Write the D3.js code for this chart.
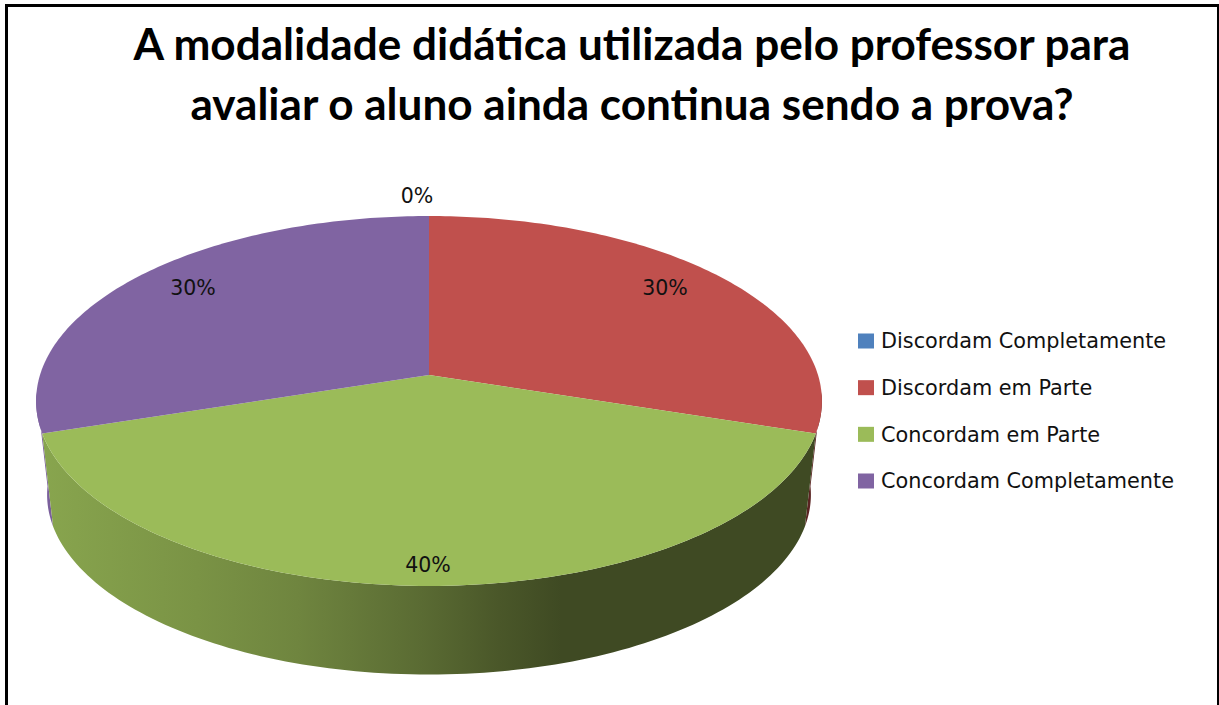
<!DOCTYPE html>
<html lang="pt">
<head>
<meta charset="utf-8">
<title>Modalidade didática</title>
<script src="https://cdn.jsdelivr.net/npm/d3@7"></script>
<style>
  html, body { margin: 0; background: #fff; }
  svg { display: block; }
  .title { font-family: Lato, sans-serif; font-weight: 700; font-size: 44.1px; fill: #000; text-anchor: middle; }
  .label, .legend-text { font-family: "DejaVu Sans", sans-serif; fill: #111; }
  .label { font-size: 20.5px; text-anchor: middle; }
  .legend-text { font-size: 20.8px; }
</style>
</head>
<body>
<div id="chart"></div>
<script>
const titleLines = [
  "A modalidade didática utilizada pelo professor para",
  "avaliar o aluno ainda continua sendo a prova?",
];
const categories = [
  "Discordam Completamente",
  "Discordam em Parte",
  "Concordam em Parte",
  "Concordam Completamente",
];
const values = [0, 30, 40, 30];
const colors = ["#4F81BD", "#C0504D", "#9BBB59", "#8064A2"];

const width = 1219;
const height = 705;

// tilted disc: circle of radius 1 projected with perspective
const pieX = 429;
const pieY = 375;
const radiusX = 389;
const radiusY = 181.3;
const tilt = 0.1405;
// the underside of the disc is a little smaller and lower
const baseScale = 0.972;
const baseShift = 105;
// how far out each label sits, across and down, in disc radii
const labelOffset = [
  { kx: 1, ky: 1.146, dx: -12 },
  { kx: 0.804, ky: 0.875, dx: 0 },
  { kx: 1, ky: 0.913, dx: -1 },
  { kx: 0.804, ky: 0.875, dx: 0 },
];

const projectUV = (u, v) => {
  const w = 1 - tilt * v;
  return [(radiusX * u) / w, (radiusY * v) / w];
};

const project = (angle, isBase = false) => {
  const [x, y] = projectUV(Math.sin(angle), -Math.cos(angle));
  return isBase
    ? [pieX + x * baseScale, (pieY + y) * baseScale + baseShift]
    : [pieX + x, pieY + y];
};

const arcPoints = (a0, a1, isBase = false) =>
  d3.range(0, 121).map((i) => project(a0 + ((a1 - a0) * i) / 120, isBase));

const line = d3.line();

const pie = d3.pie().sort(null)(values);

const svg = d3
  .select("#chart")
  .append("svg")
  .attr("width", width)
  .attr("height", height);

const sideGradient = svg
  .append("defs")
  .append("linearGradient")
  .attr("id", "side-green")
  .attr("gradientUnits", "userSpaceOnUse")
  .attr("x1", 42)
  .attr("x2", 817)
  .attr("y1", 0)
  .attr("y2", 0);

sideGradient
  .selectAll("stop")
  .data([
    [0, "#88A54E"],
    [0.2, "#7A9345"],
    [0.33, "#6F853F"],
    [0.49, "#5A6B33"],
    [0.59, "#4A5729"],
    [0.67, "#3F4A23"],
    [1, "#3F4A23"],
  ])
  .join("stop")
  .attr("offset", (d) => d[0])
  .attr("stop-color", (d) => d[1]);

// black frame, open at the bottom
const frame = svg.append("g").attr("class", "frame");
frame.append("rect").attr("x", 5).attr("y", 4).attr("width", 1214).attr("height", 3);
frame.append("rect").attr("x", 5).attr("y", 4).attr("width", 3).attr("height", 701);
frame.append("rect").attr("x", 1217).attr("y", 4).attr("width", 2).attr("height", 701);

svg
  .append("g")
  .selectAll("text")
  .data(titleLines)
  .join("text")
  .attr("class", "title")
  .attr("x", 632)
  .attr("y", (d, i) => 60 + i * 60)
  .text((d) => d);

const gSides = svg.append("g").attr("class", "sides");
const gTop = svg.append("g").attr("class", "top");
const gLabels = svg.append("g").attr("class", "labels");

// side walls, front of the disc only
const sideOf = (a0, a1) =>
  line(arcPoints(a0, a1).concat(arcPoints(a1, a0, true))) + "Z";

const widest = Math.PI * 0.53;

gSides
  .append("path")
  .attr("d", sideOf(pie[2].endAngle, 2 * Math.PI - widest))
  .attr("fill", "#7A5F9C");
gSides
  .append("path")
  .attr("d", sideOf(widest, pie[2].startAngle))
  .attr("fill", "#5A2422");
gSides
  .append("path")
  .attr("d", sideOf(pie[2].startAngle, pie[2].endAngle))
  .attr("fill", "url(#side-green)");

gTop
  .selectAll("path")
  .data(pie)
  .join("path")
  .attr("d", (d) =>
    line([[pieX, pieY]].concat(arcPoints(d.startAngle, d.endAngle))) + "Z",
  )
  .attr("fill", (d, i) => colors[i]);

const labelPos = (d, i) => {
  const mid = (d.startAngle + d.endAngle) / 2;
  const { kx, ky, dx } = labelOffset[i];
  const [x, y] = projectUV(kx * Math.sin(mid), -ky * Math.cos(mid));
  return [pieX + x + dx, pieY + y];
};

gLabels
  .selectAll("text")
  .data(pie)
  .join("text")
  .attr("class", "label")
  .attr("x", (d, i) => labelPos(d, i)[0])
  .attr("y", (d, i) => labelPos(d, i)[1])
  .attr("dy", "0.35em")
  .text((d) => `${d.value}%`);

const legendY = d3
  .scalePoint()
  .domain(categories)
  .range([341, 481]);

const legend = svg
  .append("g")
  .attr("class", "legend")
  .selectAll("g")
  .data(categories)
  .join("g")
  .attr("transform", (d) => `translate(858,${legendY(d)})`);

legend
  .append("rect")
  .attr("y", -7.5)
  .attr("width", 16)
  .attr("height", 15)
  .attr("fill", (d, i) => colors[i]);

legend
  .append("text")
  .attr("class", "legend-text")
  .attr("x", 23)
  .attr("dy", "0.35em")
  .text((d) => d);
</script>
</body>
</html>
